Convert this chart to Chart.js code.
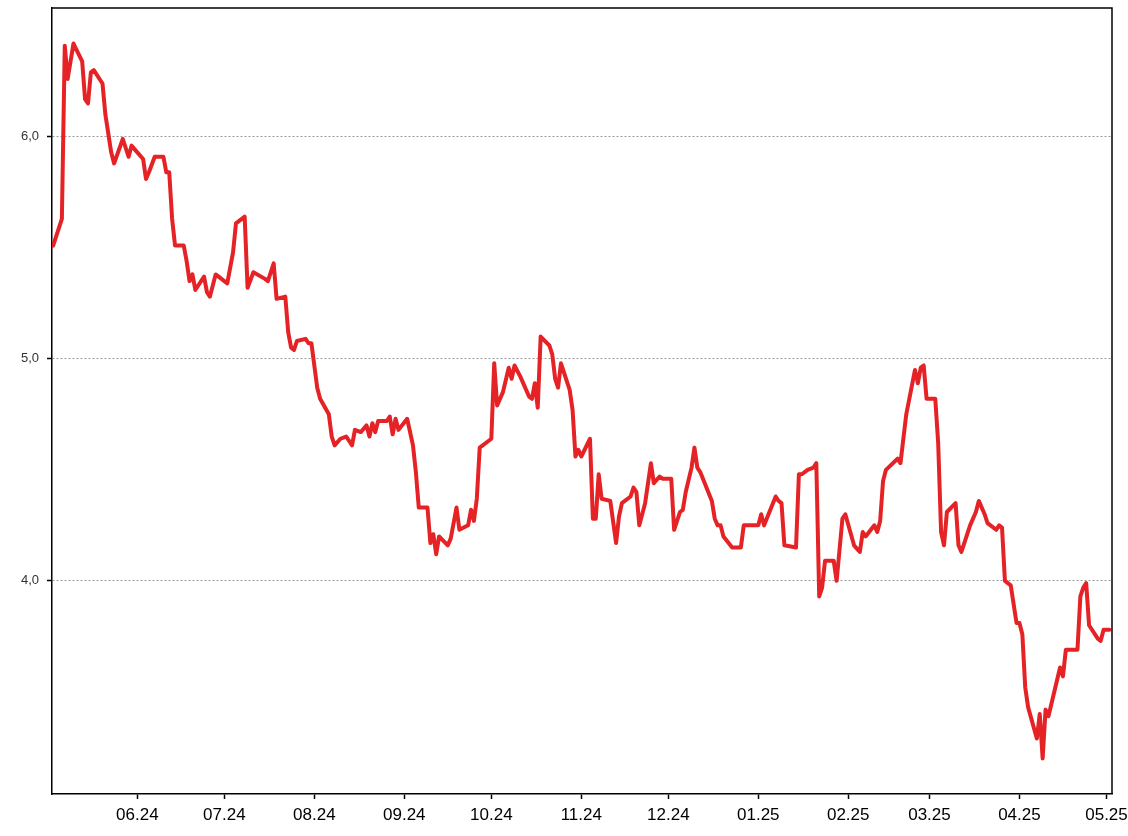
<!DOCTYPE html>
<html>
<head>
<meta charset="utf-8">
<script src="https://cdn.jsdelivr.net/npm/chart.js@4.4.1/dist/chart.umd.min.js"></script>
<style>
  html, body { margin: 0; padding: 0; background: #fff; }
  #wrap { width: 1128px; height: 836px; position: relative; }
</style>
</head>
<body>
<div id="wrap"><canvas id="chart"></canvas></div>
<script>
/* ── data ─────────────────────────────────────────────── */
const DATES = [
  '2024-05-03','2024-05-06','2024-05-07','2024-05-08','2024-05-10','2024-05-13','2024-05-14','2024-05-15',
  '2024-05-16','2024-05-17','2024-05-20','2024-05-21','2024-05-23','2024-05-24','2024-05-27','2024-05-29',
  '2024-05-30','2024-06-01','2024-06-03','2024-06-04','2024-06-05','2024-06-07','2024-06-10','2024-06-11',
  '2024-06-12','2024-06-13','2024-06-14','2024-06-17','2024-06-18','2024-06-19','2024-06-20','2024-06-21',
  '2024-06-24','2024-06-25','2024-06-26','2024-06-28','2024-07-02','2024-07-04','2024-07-05','2024-07-08',
  '2024-07-09','2024-07-11','2024-07-15','2024-07-16','2024-07-18','2024-07-19','2024-07-22','2024-07-23',
  '2024-07-24','2024-07-25','2024-07-26','2024-07-29','2024-07-30','2024-07-31','2024-08-02','2024-08-03',
  '2024-08-06','2024-08-07','2024-08-08','2024-08-10','2024-08-12','2024-08-14','2024-08-15','2024-08-17',
  '2024-08-19','2024-08-20','2024-08-21','2024-08-22','2024-08-23','2024-08-26','2024-08-27','2024-08-28',
  '2024-08-29','2024-08-30','2024-09-02','2024-09-04','2024-09-05','2024-09-06','2024-09-09','2024-09-10',
  '2024-09-11','2024-09-12','2024-09-13','2024-09-16','2024-09-17','2024-09-19','2024-09-20','2024-09-23',
  '2024-09-24','2024-09-25','2024-09-26','2024-09-27','2024-09-30','2024-10-01','2024-10-02','2024-10-03',
  '2024-10-05','2024-10-07','2024-10-08','2024-10-09','2024-10-11','2024-10-14','2024-10-15','2024-10-16',
  '2024-10-17','2024-10-18','2024-10-21','2024-10-22','2024-10-23','2024-10-24','2024-10-25','2024-10-28',
  '2024-10-29','2024-10-30','2024-10-31','2024-11-01','2024-11-04','2024-11-05','2024-11-06','2024-11-07',
  '2024-11-08','2024-11-11','2024-11-13','2024-11-14','2024-11-15','2024-11-18','2024-11-19','2024-11-20',
  '2024-11-21','2024-11-23','2024-11-25','2024-11-26','2024-11-28','2024-11-29','2024-12-02','2024-12-03',
  '2024-12-05','2024-12-06','2024-12-07','2024-12-09','2024-12-10','2024-12-11','2024-12-12','2024-12-16',
  '2024-12-17','2024-12-18','2024-12-19','2024-12-20','2024-12-23','2024-12-26','2024-12-27','2024-12-31',
  '2025-01-01','2025-01-02','2025-01-03','2025-01-07','2025-01-08','2025-01-09','2025-01-10','2025-01-14',
  '2025-01-15','2025-01-16','2025-01-18','2025-01-20','2025-01-21','2025-01-22','2025-01-23','2025-01-24',
  '2025-01-27','2025-01-28','2025-01-30','2025-01-31','2025-02-03','2025-02-05','2025-02-06','2025-02-07',
  '2025-02-10','2025-02-11','2025-02-12','2025-02-13','2025-02-14','2025-02-18','2025-02-19','2025-02-21',
  '2025-02-24','2025-02-25','2025-02-26','2025-02-27','2025-02-28','2025-03-03','2025-03-04','2025-03-05',
  '2025-03-06','2025-03-07','2025-03-10','2025-03-11','2025-03-12','2025-03-15','2025-03-17','2025-03-18',
  '2025-03-20','2025-03-21','2025-03-24','2025-03-25','2025-03-26','2025-03-27','2025-03-29','2025-03-31',
  '2025-04-01','2025-04-02','2025-04-03','2025-04-04','2025-04-07','2025-04-08','2025-04-09','2025-04-10',
  '2025-04-11','2025-04-15','2025-04-16','2025-04-17','2025-04-21','2025-04-22','2025-04-23','2025-04-24',
  '2025-04-25','2025-04-28','2025-04-29','2025-04-30','2025-05-02'
];

const VALUES = [
  5.51, 5.63, 6.41, 6.26, 6.42, 6.34, 6.17, 6.15,
  6.29, 6.30, 6.24, 6.10, 5.93, 5.88, 5.99, 5.91,
  5.96, 5.93, 5.90, 5.81, 5.84, 5.91, 5.91, 5.84,
  5.84, 5.63, 5.51, 5.51, 5.44, 5.35, 5.38, 5.31,
  5.37, 5.30, 5.28, 5.38, 5.34, 5.48, 5.61, 5.64,
  5.32, 5.39, 5.36, 5.35, 5.43, 5.27, 5.28, 5.12,
  5.05, 5.04, 5.08, 5.09, 5.07, 5.07, 4.87, 4.82,
  4.75, 4.65, 4.61, 4.64, 4.65, 4.61, 4.68, 4.67,
  4.70, 4.65, 4.71, 4.67, 4.72, 4.72, 4.74, 4.66,
  4.73, 4.68, 4.73, 4.61, 4.49, 4.33, 4.33, 4.17,
  4.21, 4.12, 4.20, 4.16, 4.19, 4.33, 4.23, 4.25,
  4.32, 4.27, 4.37, 4.60, 4.63, 4.64, 4.98, 4.79,
  4.85, 4.96, 4.91, 4.97, 4.92, 4.83, 4.82, 4.89,
  4.78, 5.10, 5.06, 5.02, 4.91, 4.87, 4.98, 4.86,
  4.77, 4.56, 4.59, 4.56, 4.64, 4.28, 4.28, 4.48,
  4.37, 4.36, 4.17, 4.29, 4.35, 4.38, 4.42, 4.40,
  4.25, 4.35, 4.53, 4.44, 4.47, 4.46, 4.46, 4.23,
  4.31, 4.32, 4.40, 4.51, 4.60, 4.51, 4.49, 4.36,
  4.28, 4.25, 4.25, 4.20, 4.15, 4.15, 4.25, 4.25,
  4.25, 4.30, 4.25, 4.38, 4.36, 4.35, 4.16, 4.15,
  4.48, 4.48, 4.50, 4.51, 4.53, 3.93, 3.97, 4.09,
  4.09, 4.00, 4.28, 4.30, 4.16, 4.13, 4.22, 4.20,
  4.25, 4.22, 4.27, 4.45, 4.50, 4.55, 4.53, 4.75,
  4.95, 4.89, 4.96, 4.97, 4.82, 4.82, 4.62, 4.22,
  4.16, 4.31, 4.35, 4.16, 4.13, 4.25, 4.31, 4.36,
  4.30, 4.26, 4.23, 4.25, 4.24, 4.00, 3.98, 3.81,
  3.81, 3.76, 3.52, 3.43, 3.29, 3.40, 3.20, 3.42,
  3.39, 3.61, 3.57, 3.69, 3.69, 3.93, 3.97, 3.99,
  3.80, 3.74, 3.73, 3.78, 3.78
];

const X_TICK_LABELS = ['06.24','07.24','08.24','09.24','10.24','11.24','12.24','01.25','02.25','03.25','04.25','05.25'];
const Y_TICKS = [4, 5, 6];

/* ── styles ───────────────────────────────────────────── */
const LINE_COLOR = '#e52225';
const GRID_COLOR = '#9a9a9a';
const FONT = 'Liberation Sans, Arial, sans-serif';

/* date string -> day number */
const dayNum = s => Date.UTC(+s.slice(0, 4), +s.slice(5, 7) - 1, +s.slice(8, 10)) / 864e5;
/* "MM.YY" -> day number of the 1st of that month */
const monthDay = l => Date.UTC(2000 + +l.slice(3, 5), +l.slice(0, 2) - 1, 1) / 864e5;

const points = DATES.map((d, i) => ({ x: dayNum(d), y: VALUES[i] }));

/* top/right frame of the plot box */
const frame = {
  id: 'frame',
  afterDraw(chart) {
    const { ctx, chartArea: a } = chart;
    ctx.save();
    ctx.strokeStyle = '#000';
    ctx.lineWidth = 1.5;
    ctx.beginPath();
    ctx.moveTo(a.left, a.top);
    ctx.lineTo(a.right, a.top);
    ctx.lineTo(a.right, a.bottom);
    ctx.stroke();
    ctx.restore();
  }
};

new Chart(document.getElementById('chart'), {
  type: 'line',
  data: {
    datasets: [{
      data: points,
      borderColor: LINE_COLOR,
      borderWidth: 4,
      borderJoinStyle: 'round',
      borderCapStyle: 'round',
      pointRadius: 0,
      tension: 0,
      fill: false
    }]
  },
  plugins: [frame],
  options: {
    responsive: true,
    maintainAspectRatio: false,
    animation: false,
    layout: { padding: { top: 8, right: 16, left: 0, bottom: 0 } },
    plugins: { legend: { display: false }, tooltip: { enabled: false } },
    scales: {
      x: {
        type: 'linear',
        min: dayNum('2024-05-03') - 0.4,
        max: dayNum('2025-05-02') + 0.9,
        afterBuildTicks: s => { s.ticks = X_TICK_LABELS.map(l => ({ value: monthDay(l) })); },
        afterFit: s => { s.height = 42; s.paddingLeft = 0; s.paddingRight = 0; },
        grid: { drawOnChartArea: false, drawTicks: true, tickLength: 5, tickColor: '#000', tickWidth: 1.5 },
        border: { display: true, color: '#000', width: 1.5 },
        ticks: {
          autoSkip: false, maxRotation: 0, padding: 6,
          color: '#000', font: { family: FONT, size: 17 },
          callback: (v, i) => X_TICK_LABELS[i]
        }
      },
      y: {
        min: 3.04,
        max: 6.58,
        afterBuildTicks: s => { s.ticks = Y_TICKS.map(v => ({ value: v })); },
        afterFit: s => { s.width = 52; s.paddingTop = 0; s.paddingBottom = 0; },
        grid: { color: GRID_COLOR, lineWidth: 1, drawTicks: true, tickLength: 5, tickColor: '#000', tickWidth: 1.5 },
        border: { display: true, color: '#000', width: 1.5, dash: [2, 2] },
        ticks: {
          padding: 8, color: '#333', font: { family: FONT, size: 13 },
          callback: v => v.toFixed(1).replace('.', ',')
        }
      }
    }
  }
});
</script>
</body>
</html>
